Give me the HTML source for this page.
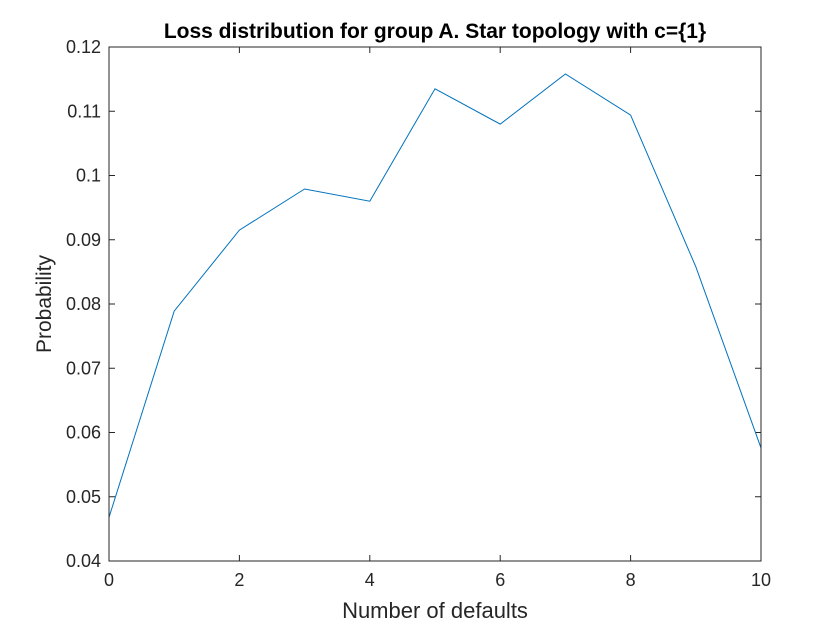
<!DOCTYPE html>
<html>
<head>
<meta charset="utf-8">
<style>
  html, body { margin: 0; padding: 0; background: #fff; }
  svg { display: block; font-family: "Liberation Sans", Arial, sans-serif; }
</style>
</head>
<body>
<svg id="chart" width="840" height="630" viewBox="0 0 840 630">
  <rect x="0" y="0" width="840" height="630" fill="#ffffff"/>
  <rect x="109" y="47" width="652" height="514" fill="#ffffff"/>
  <g id="grid-ticks"></g>
  <g id="series"></g>
  <rect x="109" y="47" width="652" height="514" fill="none" stroke="#262626" stroke-width="1"/>
  <text x="435" y="38" text-anchor="middle" font-size="21" font-weight="bold" fill="#000">Loss distribution for group A. Star topology with c={1}</text>
  <text x="435" y="618" text-anchor="middle" font-size="22" fill="#262626">Number of defaults</text>
  <text x="0" y="0" transform="translate(51,304) rotate(-90)" text-anchor="middle" font-size="21" fill="#262626">Probability</text>
</svg>
<script>
const xValues = [0, 1, 2, 3, 4, 5, 6, 7, 8, 9, 10];
const probValues = [0.0468, 0.0789, 0.0915, 0.0979, 0.0960, 0.1135, 0.1080, 0.1158, 0.1094, 0.0858, 0.0576];
const xTicks = [0, 2, 4, 6, 8, 10];
const yTicks = [0.04, 0.05, 0.06, 0.07, 0.08, 0.09, 0.1, 0.11, 0.12];
const yTickLabels = ["0.04", "0.05", "0.06", "0.07", "0.08", "0.09", "0.1", "0.11", "0.12"];

const L = 109, R = 761, T = 47, B = 561;
const xMin = 0, xMax = 10, yMin = 0.04, yMax = 0.12;
function sx(v) { return L + (v - xMin) / (xMax - xMin) * (R - L); }
function sy(v) { return B - (v - yMin) / (yMax - yMin) * (B - T); }

const NS = "http://www.w3.org/2000/svg";
const ticksG = document.getElementById("grid-ticks");
const seriesG = document.getElementById("series");

xTicks.forEach(function (t) {
  const x = sx(t);
  const l1 = document.createElementNS(NS, "line");
  l1.setAttribute("x1", x); l1.setAttribute("x2", x);
  l1.setAttribute("y1", B); l1.setAttribute("y2", B - 6);
  l1.setAttribute("stroke", "#262626");
  
  
  ticksG.appendChild(l1);
  const l2 = document.createElementNS(NS, "line");
  l2.setAttribute("x1", x); l2.setAttribute("x2", x);
  l2.setAttribute("y1", T); l2.setAttribute("y2", T + 6);
  l2.setAttribute("stroke", "#262626");
  
  
  ticksG.appendChild(l2);
  const tx = document.createElementNS(NS, "text");
  tx.setAttribute("x", x); tx.setAttribute("y", B + 25);
  tx.setAttribute("text-anchor", "middle");
  tx.setAttribute("font-size", "18");
  tx.setAttribute("fill", "#262626");
  tx.textContent = String(t);
  
  
  ticksG.appendChild(tx);
});

yTicks.forEach(function (t, i) {
  const y = sy(t);
  const l1 = document.createElementNS(NS, "line");
  l1.setAttribute("x1", L); l1.setAttribute("x2", L + 6);
  l1.setAttribute("y1", y); l1.setAttribute("y2", y);
  l1.setAttribute("stroke", "#262626");
  
  
  ticksG.appendChild(l1);
  const l2 = document.createElementNS(NS, "line");
  l2.setAttribute("x1", R); l2.setAttribute("x2", R - 6);
  l2.setAttribute("y1", y); l2.setAttribute("y2", y);
  l2.setAttribute("stroke", "#262626");
  
  
  ticksG.appendChild(l2);
  const tx = document.createElementNS(NS, "text");
  tx.setAttribute("x", L - 8); tx.setAttribute("y", y + 6);
  tx.setAttribute("text-anchor", "end");
  tx.setAttribute("font-size", "18");
  tx.setAttribute("fill", "#262626");
  tx.textContent = yTickLabels[i];
  
  
  ticksG.appendChild(tx);
});

const pts = xValues.map(function (x, i) { return sx(x) + "," + sy(probValues[i]); }).join(" ");
const line = document.createElementNS(NS, "polyline");
line.setAttribute("points", pts);
line.setAttribute("fill", "none");
line.setAttribute("stroke", "#0072BD");
line.setAttribute("stroke-width", "1");


seriesG.appendChild(line);
</script>
</body>
</html>
